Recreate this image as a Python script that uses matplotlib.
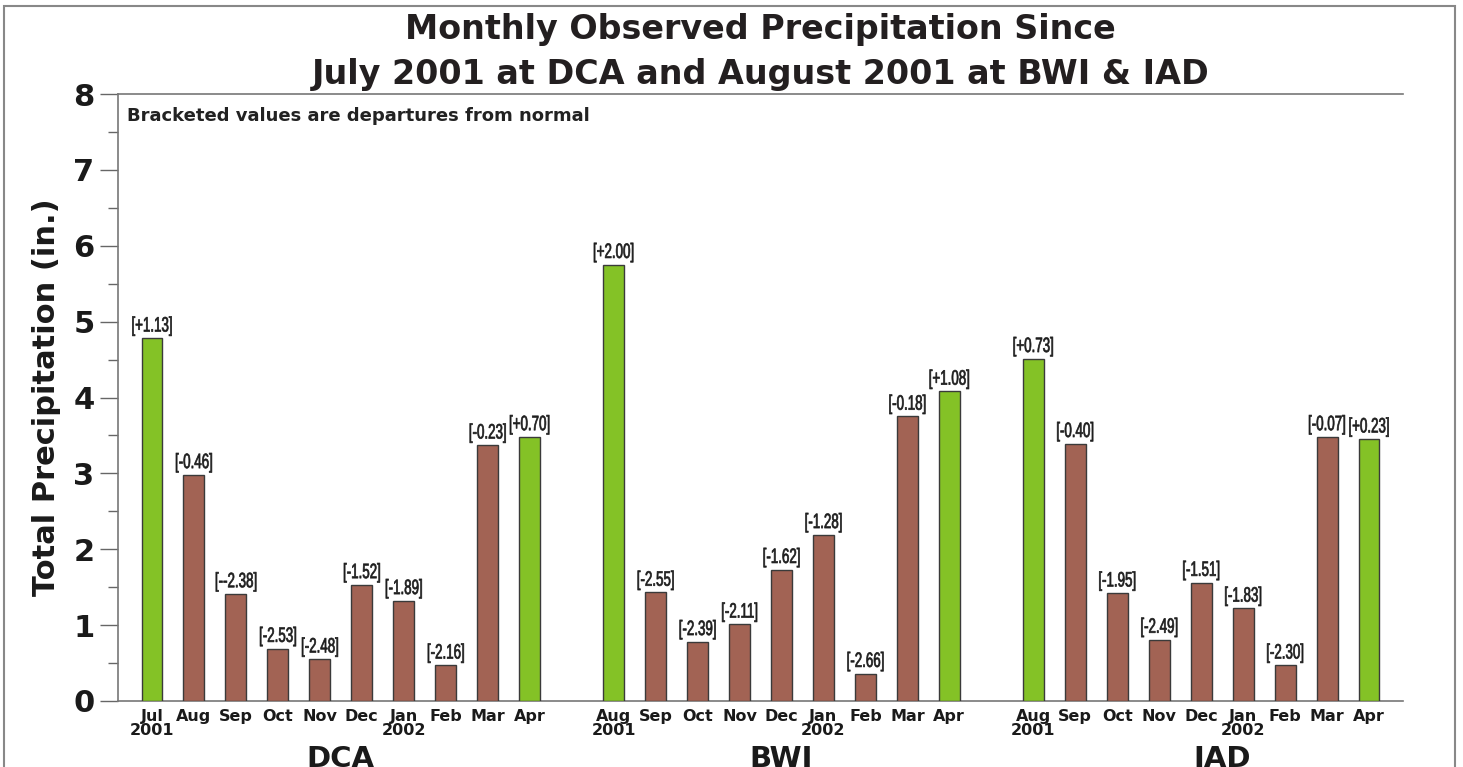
import matplotlib
matplotlib.use("Agg")
import matplotlib.pyplot as plt
from matplotlib.patches import Rectangle
from matplotlib.ticker import MultipleLocator
from matplotlib.patheffects import AbstractPathEffect
from matplotlib.transforms import Affine2D

# ---- data ----
stations = ["DCA", "BWI", "IAD"]
dca_months = ["Jul\n2001", "Aug", "Sep", "Oct", "Nov", "Dec", "Jan\n2002", "Feb", "Mar", "Apr"]
dca_values = [4.78, 2.98, 1.41, 0.69, 0.55, 1.53, 1.32, 0.47, 3.37, 3.48]
dca_depart = ["[+1.13]", "[-0.46]", "[--2.38]", "[-2.53]", "[-2.48]", "[-1.52]", "[-1.89]", "[-2.16]", "[-0.23]", "[+0.70]"]

bwi_months = ["Aug\n2001", "Sep", "Oct", "Nov", "Dec", "Jan\n2002", "Feb", "Mar", "Apr"]
bwi_values = [5.75, 1.43, 0.78, 1.01, 1.73, 2.19, 0.36, 3.75, 4.08]
bwi_depart = ["[+2.00]", "[-2.55]", "[-2.39]", "[-2.11]", "[-1.62]", "[-1.28]", "[-2.66]", "[-0.18]", "[+1.08]"]

iad_months = ["Aug\n2001", "Sep", "Oct", "Nov", "Dec", "Jan\n2002", "Feb", "Mar", "Apr"]
iad_values = [4.51, 3.39, 1.42, 0.81, 1.56, 1.22, 0.47, 3.48, 3.45]
iad_depart = ["[+0.73]", "[-0.40]", "[-1.95]", "[-2.49]", "[-1.51]", "[-1.83]", "[-2.30]", "[-0.07]", "[+0.23]"]

GREEN = "#84C226"
BROWN = "#A26354"
TXT = "#1a1a1a"
BOLD = "DejaVu Sans"

groups = [
    (dca_months, dca_values, dca_depart),
    (bwi_months, bwi_values, bwi_depart),
    (iad_months, iad_values, iad_depart),
]


class Condense(AbstractPathEffect):
    """Draw text horizontally condensed around its own centre (narrow-font look)."""

    def __init__(self, sx, stroke=0.0):
        super().__init__()
        self.sx = sx
        self.stroke = stroke

    def draw_path(self, renderer, gc, tpath, affine, rgbFace=None):
        ext = tpath.get_extents(affine)
        cx = (ext.x0 + ext.x1) / 2
        aff = affine + Affine2D().translate(-cx, 0).scale(self.sx, 1).translate(cx, 0)
        if self.stroke > 0 and rgbFace is not None:
            gc0 = renderer.new_gc()
            gc0.copy_properties(gc)
            gc0.set_foreground(rgbFace)
            gc0.set_linewidth(self.stroke)
            renderer.draw_path(gc0, tpath, aff, rgbFace)
            gc0.restore()
        else:
            renderer.draw_path(gc, tpath, aff, rgbFace)


fig = plt.figure(figsize=(14.63, 7.67), dpi=100)
ax = fig.add_axes([118 / 1463, 1 - 701 / 767, (1403 - 118) / 1463, (701 - 94) / 767])

positions, labels, values, departs = [], [], [], []
group_centers = []
start = 0
for months, vals, deps in groups:
    pos = list(range(start, start + len(vals)))
    positions += pos
    labels += months
    values += vals
    departs += deps
    group_centers.append((pos[0] + pos[-1]) / 2)
    start = pos[-1] + 2
group_centers[2] += 0.5

colors = [GREEN if d.startswith("[+") else BROWN for d in departs]
ax.bar(positions, values, width=0.5, color=colors, edgecolor="#3a3a3a", linewidth=1.0, zorder=3)

for x, v, d in zip(positions, values, departs):
    ax.annotate(d, (x, v), xytext=(0, 2.0), textcoords="offset points",
                ha="center", va="bottom", family="Liberation Sans", fontsize=15,
                color="#1e1e1e", path_effects=[Condense(0.64, stroke=0.5)])

ax.set_xlim(-0.81, positions[-1] + 0.81)
ax.set_ylim(0, 8)
ax.yaxis.set_major_locator(MultipleLocator(1))
ax.yaxis.set_minor_locator(MultipleLocator(0.5))
ax.set_xticks(positions)
ax.set_xticklabels(labels, fontsize=11.5, fontweight="bold", family=BOLD,
                   linespacing=0.9, color=TXT)
ax.tick_params(axis="x", length=0, pad=6)
ax.tick_params(axis="y", which="major", length=13, width=1, color="#666666", pad=4,
               labelsize=22)
ax.tick_params(axis="y", which="minor", length=7, width=1, color="#666666")
for lab in ax.get_yticklabels():
    lab.set_fontweight("bold")
    lab.set_family(BOLD)
    lab.set_color(TXT)

ax.spines["right"].set_visible(False)
for side in ["left", "top", "bottom"]:
    ax.spines[side].set_color("#777777")
    ax.spines[side].set_linewidth(1.2)

ax.set_ylabel("Total Precipitation (in.)", fontsize=22, fontweight="bold",
              family=BOLD, color=TXT)
ax.yaxis.label.set_va("center")
ax.yaxis.set_label_coords((47 - 118) / 1285, 0.5)

for name, c in zip(stations, group_centers):
    ax.text(c, -(745 - 701) / 607, name, transform=ax.get_xaxis_transform(), ha="center",
            va="top", fontsize=21, fontweight="bold", family=BOLD, color=TXT)

fig.text(127 / 1463, 1 - 121 / 767, "Bracketed values are departures from normal",
         fontsize=13, fontweight="bold", family=BOLD, color="#222222",
         ha="left", va="baseline")

cx = (118 + 1403) / 2 / 1463
fig.text(cx, 1 - 39 / 767, "Monthly Observed Precipitation Since", ha="center", va="baseline",
         fontsize=24, fontweight="bold", family=BOLD, color="#231F20")
fig.text(cx, 1 - 84 / 767, "July 2001 at DCA and August 2001 at BWI & IAD", ha="center",
         va="baseline", fontsize=24, fontweight="bold", family=BOLD, color="#231F20")

fig.patches.append(Rectangle((4 / 1463, -0.1), (1455 - 4) / 1463, 1.1 - 6 / 767,
                             transform=fig.transFigure, fill=False, edgecolor="#888888",
                             linewidth=1.5, figure=fig))

fig.savefig("out.png", dpi=100)
